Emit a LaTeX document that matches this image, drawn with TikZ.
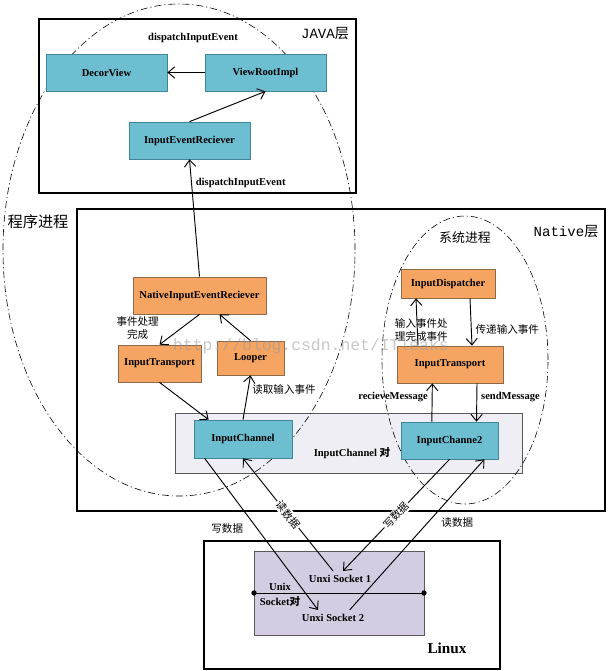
\documentclass[tikz,border=0pt]{standalone}
\usepackage{fontspec}
\setmainfont{Liberation Serif}
\newfontfamily\cjk{Noto Sans CJK SC}
\newfontfamily\wmfont{Liberation Mono}
\usepackage{tikz}
\usetikzlibrary{arrows.meta}
\definecolor{boxblue}{HTML}{6EBED2}
\definecolor{blueedge}{HTML}{3F8798}
\definecolor{boxorange}{HTML}{F5A462}
\definecolor{orangeedge}{HTML}{8C6A4A}
\definecolor{pairgray}{HTML}{EFEEF4}
\definecolor{socketlilac}{HTML}{D4CCE1}

\begin{document}
\begin{tikzpicture}[x=0.03cm,y=-0.03cm,line width=0.8pt,
  >={Straight Barb[length=2mm,width=3.4mm]},
  font=\fontsize{9}{11}\selectfont,
  layer/.style={draw=black,line width=1.3pt},
  proc/.style={dash pattern=on 6pt off 2.5pt on 1pt off 2.5pt,line width=0.5pt},
  bluebox/.style={draw=blueedge,fill=boxblue,line width=0.6pt,font=\fontsize{9}{11}\selectfont\bfseries,inner sep=0pt},
  orangebox/.style={draw=orangeedge,fill=boxorange,line width=0.6pt,font=\fontsize{9}{11}\selectfont\bfseries,inner sep=0pt},
  msg/.style={font=\fontsize{9}{11}\selectfont\bfseries},
  note/.style={font=\cjk\fontsize{9}{11}\selectfont}]
\useasboundingbox (0,0) rectangle (607,671);

\draw[layer] (39,19) rectangle (356,193);
\draw[layer] (77,209) rectangle (605,511);
\draw[layer] (204,541) rectangle (500,669);
\draw[draw=black!65,fill=pairgray,line width=0.6pt] (175,413) rectangle (522,473);
\draw[draw=black!65,fill=socketlilac,line width=0.6pt] (254,551) rectangle (424,635);

\draw[proc] (179,250) ellipse [x radius=5.28cm,y radius=7.38cm];
\draw[proc] (465,360) ellipse [x radius=2.49cm,y radius=4.32cm];

\node[font=\wmfont\fontsize{12}{12}\selectfont] (java) at (325,34) {JAVA{\cjk 层}};
\node[font=\wmfont\fontsize{12}{12}\selectfont] (native) at (566,232) {Native{\cjk 层}};
\node[font=\cjk\fontsize{13}{13}\selectfont] (app) at (38,222) {程序进程};
\node[font=\cjk\fontsize{11}{11}\selectfont] (sys) at (465,238) {系统进程};
\node[font=\fontsize{13}{13}\selectfont\bfseries] (linux) at (447,648) {Linux};

\node[bluebox,minimum width=3.63cm,minimum height=1.11cm] (dv) at (106.5,72.5) {DecorView};
\node[bluebox,minimum width=3.63cm,minimum height=1.11cm] (vri) at (265.5,72.5) {ViewRootImpl};
\node[bluebox,minimum width=3.63cm,minimum height=1.11cm] (ier) at (189.5,140.5) {InputEventReciever};
\node[orangebox,minimum width=3.99cm,minimum height=1.11cm] (nier) at (199.5,295.5) {NativeInputEventReciever};
\node[orangebox,minimum width=2.49cm,minimum height=1.11cm] (itl) at (159.5,363.5) {InputTransport};
\node[orangebox,minimum width=2.01cm,minimum height=1.02cm] (looper) at (250.5,358) {Looper};
\node[bluebox,minimum width=2.94cm,minimum height=1.14cm] (ich) at (243,439) {InputChannel};
\node[orangebox,minimum width=2.82cm,minimum height=0.87cm] (idp) at (448,283.5) {InputDispatcher};
\node[orangebox,minimum width=3.18cm,minimum height=1.11cm] (itr) at (450,364.5) {InputTransport};
\node[bluebox,minimum width=2.91cm,minimum height=1.11cm] (ich2) at (449.5,440.5) {InputChanne2};

\node[msg] (pair) at (352,453) {InputChannel {\cjk 对}};
\node[msg] (us1) at (340,579) {Unxi Socket 1};
\node[msg] (us2) at (333,618) {Unxi Socket 2};
\node[msg,align=center,inner sep=0pt] (uxpair) at (280,595) {Unix\\[2pt]Socket{\cjk 对}};
\coordinate (sl) at (254,593);
\coordinate (sr) at (424,593);
\draw[line width=0.7pt] (sl) -- (sr);
\fill (sl) circle (2.3pt) (sr) circle (2.3pt);

\node[msg] (toplbl) at (193,38) {dispatchInputEvent};
\draw[->] (vri) -- (dv);
\draw[->] (ier.north) -- (vri.south);
\draw[->] (nier.north) -- node[pos=0.8,right,msg]{dispatchInputEvent} (ier.south);
\draw[->] (nier.south) -- node[pos=0.45,left=0.55cm,note,align=center]{事件处理\\完成} (itl.north);
\draw[->] (looper.north) -- ([xshift=0.6cm]nier.south);
\draw[->] (itl.south) -- ([xshift=0.45cm]ich.north west);
\draw[->] (ich.north) -- node[pos=0.67,right,note]{读取输入事件} (looper.south);

\draw[->] ([xshift=-0.96cm]itr.north) -- node[pos=0.33,xshift=0.12cm,note,align=center]{输入事件处\\理完成事件} ([xshift=-0.96cm]idp.south);
\draw[->] ([xshift=0.66cm]idp.south) -- node[pos=0.65,right,note]{传递输入事件} ([xshift=0.66cm]itr.north);
\draw[->] ([xshift=-0.53cm]ich2.north) -- node[pos=0.64,left,msg]{recieveMessage} ([xshift=-0.53cm]itr.south);
\draw[->] ([xshift=0.81cm]itr.south) -- node[pos=0.36,right,msg]{sendMessage} ([xshift=0.81cm]ich2.north);

\draw[->] ([xshift=0.33cm]ich.south west) -- node[pos=0.46,left=0.28cm,note]{写数据} ([xshift=-0.45cm]us2.north);
\draw[->] ([xshift=-0.21cm]us1.north) -- node[sloped,fill=white,inner sep=1pt,note]{读数据} (ich.south);
\draw[->] (ich2.south) -- node[sloped,fill=white,inner sep=1pt,note]{写数据} ([xshift=0.09cm]us1.north);
\draw[->] ([xshift=0.5cm]us2.north) -- node[pos=0.58,right=0.28cm,note]{读数据} ([xshift=-0.42cm]ich2.south east);

\node[text=black!40,opacity=0.55,font=\wmfont\fontsize{14}{14}\selectfont] (wm) at (311,346) {http://blog.csdn.net/ITleaks};
\end{tikzpicture}
\end{document}
